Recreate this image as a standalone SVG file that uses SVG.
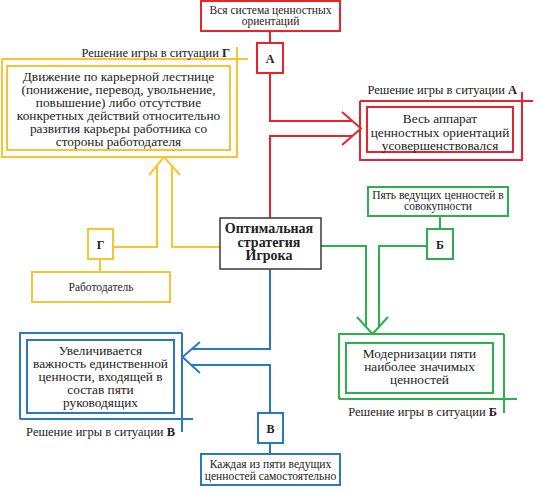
<svg xmlns="http://www.w3.org/2000/svg" width="539" height="491" viewBox="0 0 539 491">
<defs>
<style>
text{font-family:"Liberation Serif","DejaVu Serif",serif;fill:#222;text-anchor:middle}
.s{font-size:11.5px}
.m{font-size:13.3px}
.l{font-size:12.5px;text-anchor:end}
.b{font-weight:bold}
.c{font-size:12px;font-weight:bold}
.box{fill:#fff;stroke-width:2}
.ln{fill:none;stroke-width:2}
.r{stroke:#E8232B}
.y{stroke:#F8C433}
.g{stroke:#2BB04C}
.u{stroke:#2A78C2}
</style>
</defs>
<rect width="539" height="491" fill="#fff"/>
<g id="connectors">
<path class="ln r" d="M270,31V43M270,73V121H352M352,136H270V218M342,112L361,128.5L342,145"/>
<path class="ln y" d="M100,259V272M113,247H157V165M172,166V247H220M149,175L164,157L180,175"/>
<path class="ln g" d="M440,216V229M321,246H366V327M427,246H379V327M357,317L372.5,334L388,317"/>
<path class="ln u" d="M270,269V349H192M192,365H270V413M270,443V454M200,342L182.5,357L200,373"/>
</g>
<g id="center">
<rect x="220" y="218" width="101" height="51" fill="#fff" stroke="#3a3a3a" stroke-width="1.5"/>
<text class="b" font-size="14" x="269" y="233">Оптимальная</text>
<text class="b" font-size="14" x="269" y="247">стратегия</text>
<text class="b" font-size="14" x="269" y="260">Игрока</text>
</g>
<g id="nodeA-source">
<rect class="box r" x="201" y="1" width="139" height="30"/>
<text class="s" x="270.5" y="13.5">Вся система ценностных</text>
<text class="s" x="270.5" y="25">ориентаций</text>
</g>
<g id="nodeA">
<rect class="box r" x="257" y="43" width="26" height="30"/>
<text class="c" x="270" y="62.5">А</text>
</g>
<g id="resultA">
<path class="ln r" d="M360,101H533M522,92V160H360V101"/>
<rect class="box r" x="367" y="107" width="146" height="45"/>
<text class="m" x="440" y="123">Весь аппарат</text>
<text class="m" x="440" y="136.5">ценностных ориентаций</text>
<text class="m" x="440" y="150">усовершенствовался</text>
<text class="l" x="517" y="94">Решение игры в ситуации <tspan font-weight="bold">А</tspan></text>
</g>
<g id="resultG">
<path class="ln y" d="M2,59H248M237,47V157H2V59"/>
<rect class="box y" x="7" y="66" width="223" height="84"/>
<text class="m" x="118.5" y="81">Движение по карьерной лестнице</text>
<text class="m" x="118.5" y="94">(понижение, перевод, увольнение,</text>
<text class="m" x="118.5" y="107">повышение) либо отсутствие</text>
<text class="m" x="118.5" y="120">конкретных действий относительно</text>
<text class="m" x="118.5" y="133">развития карьеры работника со</text>
<text class="m" x="118.5" y="146">стороны работодателя</text>
<text class="l" x="230" y="57">Решение игры в ситуации <tspan font-weight="bold">Г</tspan></text>
</g>
<g id="nodeG">
<rect class="box y" x="88" y="229" width="25" height="30"/>
<text class="c" x="100.5" y="248.5">Г</text>
</g>
<g id="nodeG-source">
<rect class="box y" x="32" y="272" width="138" height="30"/>
<text class="s" x="101" y="291">Работодатель</text>
</g>
<g id="nodeB-source">
<rect class="box g" x="368" y="187" width="140" height="29"/>
<text class="s" x="438" y="199">Пять ведущих ценностей в</text>
<text class="s" x="438" y="210">совокупности</text>
</g>
<g id="nodeB">
<rect class="box g" x="427" y="229" width="26" height="30"/>
<text class="c" x="440" y="248.5">Б</text>
</g>
<g id="resultB">
<path class="ln g" d="M339,399H517M504,334V413M504,334H339V399"/>
<rect class="box g" x="346" y="343" width="147" height="50"/>
<text class="m" x="419.5" y="358">Модернизации пяти</text>
<text class="m" x="419.5" y="371">наиболее значимых</text>
<text class="m" x="419.5" y="384">ценностей</text>
<text class="l" x="497" y="416">Решение игры в ситуации <tspan font-weight="bold">Б</tspan></text>
</g>
<g id="resultV">
<path class="ln u" d="M20,419H193M182,333V432M182,333H20V419"/>
<rect class="box u" x="27" y="340" width="147" height="73"/>
<text class="m" x="100.5" y="355">Увеличивается</text>
<text class="m" x="100.5" y="368">важность единственной</text>
<text class="m" x="100.5" y="381">ценности, входящей в</text>
<text class="m" x="100.5" y="394">состав пяти</text>
<text class="m" x="100.5" y="407">руководящих</text>
<text class="l" x="175" y="436">Решение игры в ситуации <tspan font-weight="bold">В</tspan></text>
</g>
<g id="nodeV">
<rect class="box u" x="258" y="413" width="25" height="30"/>
<text class="c" x="270.5" y="432.5">В</text>
</g>
<g id="nodeV-source">
<rect class="box u" x="201" y="454" width="139" height="31"/>
<text class="s" x="270.5" y="468">Каждая из пяти ведущих</text>
<text class="s" x="270.5" y="479.5">ценностей самостоятельно</text>
</g>
</svg>
